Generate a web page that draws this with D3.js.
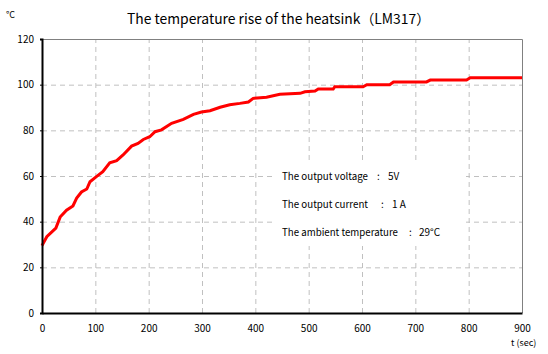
<!DOCTYPE html>
<html lang="en">
<head>
<meta charset="UTF-8">
<title>The temperature rise of the heatsink (LM317)</title>
<script src="https://d3js.org/d3.v7.min.js"></script>
<style>
  body { margin: 0; background: #fff; }
  text { font-family: "Noto Sans CJK JP", "DejaVu Sans", sans-serif; fill: #000; }
</style>
</head>
<body>
<div id="chart"></div>
<script>
// time (sec) and temperature (deg C)
const times = [0, 9, 26, 34, 46, 58, 65, 74, 84, 90, 102, 114, 127, 140, 152, 168, 180, 190, 202, 212, 224,
  243, 265, 284, 299, 315, 334, 352, 371, 387, 396, 421, 446, 484, 493, 512, 518, 546, 549, 602, 609,
  652, 659, 721, 728, 796, 803, 900];
const temps = [29.5, 33.4, 37.2, 42, 45, 46.9, 50.3, 53, 54.3, 57.5, 59.7, 61.9, 65.8, 66.7, 69.2, 73.1, 74.3, 76, 77.2, 79.4, 80.2,
  83.1, 84.8, 87, 88, 88.6, 90.1, 91.2, 91.8, 92.4, 94, 94.5, 95.8, 96.2, 96.9, 97.2, 98.1, 98.1, 99.1, 99.1, 100,
  100, 101.2, 101.2, 102, 102, 103, 103];

const xTicks = [0, 100, 200, 300, 400, 500, 600, 700, 800, 900];
const yTicks = [0, 20, 40, 60, 80, 100, 120];

const title = "The temperature rise of the heatsink\uFF08LM317\uFF09";
const noteLabels = ["The output voltage", "The output current", "The ambient temperature"];
const noteValues = ["5V", "1 A", "29\u00B0C"];

const W = 548, H = 354;
const margin = {top: 39, right: 26, bottom: 41, left: 42};

const svg = d3.select("#chart").append("svg")
  .attr("width", W).attr("height", H);

const x = d3.scaleLinear().domain([0, 900]).range([margin.left, W - margin.right]);
const y = d3.scaleLinear().domain([0, 120]).range([H - margin.bottom, margin.top]);

// grid
svg.append("g").selectAll("line")
  .data(xTicks.filter(d => d > 0 && d < 900))
  .join("line")
  .attr("x1", d => x(d) + 0.5).attr("x2", d => x(d) + 0.5)
  .attr("y1", y(0)).attr("y2", y(120))
  .attr("stroke", "#c0c0c0").attr("stroke-dasharray", "5,4");

svg.append("g").selectAll("line")
  .data(yTicks.filter(d => d > 0 && d < 120))
  .join("line")
  .attr("x1", x(0)).attr("x2", x(900))
  .attr("y1", d => y(d) + 0.5).attr("y2", d => y(d) + 0.5)
  .attr("stroke", "#c0c0c0").attr("stroke-dasharray", "5,4");

// top and right frame
svg.append("path")
  .attr("d", `M${x(0)},${y(120) + 0.5}H${x(900) + 0.5}V${y(0)}`)
  .attr("fill", "none").attr("stroke", "#808080");

// annotation box hides the grid behind it
svg.append("rect")
  .attr("x", 272).attr("y", 160).attr("width", 194).attr("height", 86)
  .attr("fill", "#fff");

// curve
const line = d3.line()
  .x((d, i) => x(times[i]))
  .y(d => y(d));

svg.append("path")
  .datum(temps)
  .attr("d", line)
  .attr("fill", "none")
  .attr("stroke", "#ff0000")
  .attr("stroke-width", 3);

// axes
const xAxis = svg.append("g")
  .attr("transform", `translate(0,${y(0)})`)
  .call(d3.axisBottom(x).tickValues(xTicks).tickSize(0).tickPadding(12));
xAxis.select(".domain").attr("stroke", "#000").attr("stroke-width", 2);
xAxis.selectAll("text").style("font-size", "10px").attr("font-family", null);

const yAxis = svg.append("g")
  .attr("transform", `translate(${x(0)},0)`)
  .call(d3.axisLeft(y).tickValues(yTicks).tickSize(2).tickPadding(6));
yAxis.select(".domain").attr("stroke", "#000").attr("stroke-width", 2);
yAxis.selectAll("text").style("font-size", "10px").attr("font-family", null);

// title and units
svg.append("text")
  .attr("x", 127).attr("y", 24)
  .attr("textLength", 303).attr("lengthAdjust", "spacingAndGlyphs")
  .style("font-size", "14px")
  .text(title);

svg.append("text")
  .attr("x", 6).attr("y", 18)
  .style("font-size", "9px")
  .text("\u00B0C");

svg.append("text")
  .attr("x", 511).attr("y", 346)
  .style("font-size", "9px")
  .text("t (sec)");

// notes
const labelW = [86, 86, 116];
const colonX = [377, 381, 409];
const valueX = [388, 392, 419];
noteLabels.forEach((t, i) => {
  const yy = 180 + i * 28;
  svg.append("text").attr("x", 282).attr("y", yy).style("font-size", "10px")
    .attr("textLength", labelW[i]).attr("lengthAdjust", "spacingAndGlyphs").text(t);
  svg.append("text").attr("x", colonX[i]).attr("y", yy).style("font-size", "10px").text(":");
  svg.append("text").attr("x", valueX[i]).attr("y", yy).style("font-size", "10px").text(noteValues[i]);
});
</script>
</body>
</html>
